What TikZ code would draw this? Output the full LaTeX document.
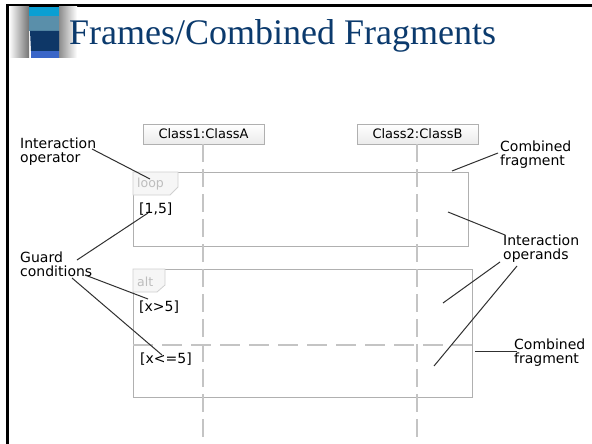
\documentclass[tikz,border=0pt]{standalone}
\usepackage{fontspec}
\setmainfont{Liberation Serif}
\newfontfamily\labfont{DejaVu Sans}
\definecolor{titleblue}{HTML}{0B3A6D}
\definecolor{stripeA}{HTML}{0A9FD3}
\definecolor{stripeB}{HTML}{5A8FAA}
\definecolor{stripeC}{HTML}{0E3767}
\definecolor{stripeD}{HTML}{3A66C8}
\definecolor{framegray}{HTML}{B0B0B0}
\definecolor{lifegray}{HTML}{C4C4C4}
\definecolor{tabfill}{HTML}{F6F6F6}
\definecolor{tabline}{HTML}{D0D0D0}
\definecolor{tabtxt}{HTML}{BDBDBD}
\definecolor{connector}{HTML}{303030}
\begin{document}
\begin{tikzpicture}[x=1pt,y=-1pt,
  classbox/.style={draw=framegray, top color=white, bottom color=black!8, minimum width=121pt, minimum height=20pt, inner sep=0pt, font=\labfont\fontsize{13}{14}\selectfont},
  lifeline/.style={draw=lifegray, line width=1.3pt, dash pattern=on 18pt off 7pt},
  fragbox/.style={draw=framegray, line width=0.9pt, anchor=north west, inner sep=0pt},
  tabshape/.style={fill=tabfill, draw=tabline, line width=0.8pt},
  tabtext/.style={anchor=base west, inner sep=0pt, text=tabtxt, font=\labfont\fontsize{12.5}{14}\selectfont},
  guard/.style={anchor=base west, inner sep=0pt, font=\labfont\fontsize{14}{14}\selectfont},
  callout/.style={anchor=base west, inner sep=0pt, align=left, font=\labfont\fontsize{14}{14}\selectfont},
  conn/.style={draw=connector, line width=1pt}
]
\useasboundingbox (0,0) rectangle (592,444);
\fill[white] (0,0) rectangle (592,444);

% slide border
\draw[line width=3pt] (7.5,444) -- (7.5,5.5) -- (592,5.5);

% title decoration
\shade[left color=white, right color=black!55] (9,7) rectangle (29,58);
\shade[left color=black!45, right color=white] (59,7) rectangle (77,58);
\fill[stripeA] (29,7) rectangle (59,16);
\fill[stripeB] (29,16) rectangle (59,31);
\fill[stripeC] (30,31) -- (59,31) -- (59,51) -- (31,51) -- cycle;
\fill[stripeD] (31,51) rectangle (59,58);

\node[anchor=base west, inner sep=0pt, text=titleblue, font=\fontsize{36}{40}\selectfont] (title) at (69,45) {Frames/Combined Fragments};

% lifeline heads
\node[classbox] (c1) at (203.5,134) {Class1:ClassA};
\node[classbox] (c2) at (417.5,134) {Class2:ClassB};
\coordinate (l1end) at (203,444);
\coordinate (l2end) at (417,444);

% fragments
\node[fragbox, minimum width=335pt, minimum height=74pt] (loopf) at (133,172) {};
\node[fragbox, minimum width=339pt, minimum height=128pt] (altf) at (133,269) {};

% lifelines
\draw[lifeline] (c1.south -| l1end) -- (l1end);
\draw[lifeline] (c2.south -| l2end) -- (l2end);

% alt operand separator
\coordinate (sepL) at (133,345);
\coordinate (sepR) at (472,345);
\draw[draw=lifegray, line width=1.1pt, dash pattern=on 20pt off 9pt] (sepL) -- (sepR);

% tabs
\draw[tabshape] (133,172) -- (178,172) -- (178,187) -- (170,195) -- (133,195) -- cycle;
\draw[tabshape] (133,269) -- (165,269) -- (165,285) -- (157,292) -- (133,292) -- cycle;
\node[tabtext] (looplbl) at (137,187) {loop};
\node[tabtext] (altlbl) at (137,286) {alt};

% guards
\node[guard] (g1) at (139,213) {[1,5]};
\node[guard] (g2) at (139,311) {[x>5]};
\node[guard] (g3) at (140,363) {[x<=5]};

% callout labels (anchor = baseline of the last line)
\node[callout] (intop) at (20,162) {Interaction\\operator};
\node[callout] (guardc) at (20,276) {Guard\\conditions};
\node[callout] (comb1) at (500,165) {Combined\\fragment};
\node[callout] (intopd) at (503,259) {Interaction\\operands};
\node[callout] (comb2) at (514,363) {Combined\\fragment};

% connector end points
\coordinate (a1) at (92,149);   \coordinate (b1) at (150,179);
\coordinate (a2) at (77,260);   \coordinate (b2) at (148,213);
\coordinate (a3) at (85,275);   \coordinate (b3) at (148,299);
\coordinate (a4) at (72,278);   \coordinate (b4) at (162,355);
\coordinate (a5) at (498,153);  \coordinate (b5) at (452,171);
\coordinate (a6) at (505,235);  \coordinate (b6) at (448,212);
\coordinate (a7) at (500,262);  \coordinate (b7) at (443,303);
\coordinate (a8) at (517,266);  \coordinate (b8) at (434,366);
\coordinate (a9) at (517,351);  \coordinate (b9) at (475,351);

\draw[conn] (a1) -- (b1);
\draw[conn] (a2) -- (b2);
\draw[conn] (a3) -- (b3);
\draw[conn] (a4) -- (b4);
\draw[conn] (a5) -- (b5);
\draw[conn] (a6) -- (b6);
\draw[conn] (a7) -- (b7);
\draw[conn] (a8) -- (b8);
\draw[conn] (a9) -- (b9);
\end{tikzpicture}
\end{document}
